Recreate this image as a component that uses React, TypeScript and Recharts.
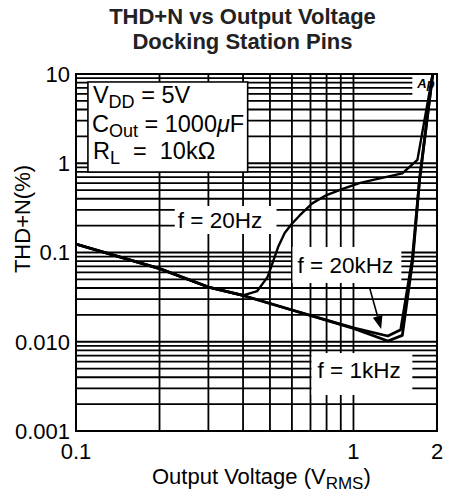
import React from 'react';
import { ComposedChart, Line, XAxis, YAxis, CartesianGrid, ReferenceArea, ReferenceLine } from 'recharts';

const FONT = '"Liberation Sans", Arial, Helvetica, sans-serif';

// f = 20Hz series
const f20HzV = [0.1, 0.2, 0.3, 0.4, 0.45, 0.49, 0.51, 0.535, 0.565, 0.6, 0.64, 0.71, 0.8, 0.92, 1.05, 1.2, 1.5, 1.7, 1.93];
const f20HzThd = [0.124, 0.066, 0.041, 0.033, 0.037, 0.053, 0.075, 0.115, 0.165, 0.21, 0.26, 0.355, 0.44, 0.52, 0.6, 0.66, 0.77, 1.09, 10];

// f = 1kHz series
const f1kHzV = [0.1, 0.2, 0.3, 0.4, 0.6, 1.0, 1.33, 1.5, 1.635, 1.73, 1.93];
const f1kHzThd = [0.124, 0.066, 0.041, 0.033, 0.0227, 0.0141, 0.0102, 0.0118, 0.082, 0.65, 10];

// f = 20kHz series
const f20kHzV = [0.1, 0.2, 0.3, 0.4, 0.6, 1.0, 1.33, 1.48, 1.63, 1.73, 1.93];
const f20kHzThd = [0.124, 0.066, 0.041, 0.033, 0.0227, 0.0143, 0.0116, 0.0136, 0.085, 0.65, 10];

// Axis ticks (grid lines) and their labels
const xTicks = [0.1, 0.2, 0.3, 0.4, 0.5, 0.6, 0.7, 0.8, 0.9, 1, 2];
const xTickLabels: Record<string, string> = { '0.1': '0.1', '1': '1', '2': '2' };
const yTicks = [
  0.001, 0.002, 0.003, 0.004, 0.005, 0.006, 0.007, 0.008, 0.009,
  0.01, 0.02, 0.03, 0.04, 0.05, 0.06, 0.07, 0.08, 0.09,
  0.1, 0.2, 0.3, 0.4, 0.5, 0.6, 0.7, 0.8, 0.9,
  1, 2, 3, 4, 5, 6, 7, 8, 9, 10,
];
const yTickLabels: Record<string, string> = { '0.001': '0.001', '0.01': '0.010', '0.1': '0.1', '1': '1', '10': '10' };

const toData = (xs: number[], ys: number[]) => xs.map((x, i) => ({ x, y: ys[i] }));
const data20Hz = toData(f20HzV, f20HzThd);
const data1kHz = toData(f1kHzV, f1kHzThd);
const data20kHz = toData(f20kHzV, f20kHzThd);

const LegendText = (props: any) => {
  const { x, y } = props.viewBox;
  const common = { fontFamily: FONT, fontSize: 23.5, fill: '#000', style: { whiteSpace: 'pre' as const } };
  return (
    <g>
      <text x={x + 5} y={y + 21} {...common}>
        V<tspan fontSize={18} dy={5}>DD</tspan><tspan dy={-5}> = 5V</tspan>
      </text>
      <text x={x + 4} y={y + 50} {...common}>
        C<tspan fontSize={18} dy={5}>Out</tspan><tspan dy={-5}> = 1000</tspan><tspan fontStyle="italic">μ</tspan>F
      </text>
      <text x={x + 5} y={y + 77} {...common}>
        R<tspan fontSize={18} dy={5}>L</tspan><tspan dy={-5}>  =  10kΩ</tspan>
      </text>
    </g>
  );
};

const BoxText = (props: any) => {
  const { x, y } = props.viewBox;
  return (
    <text x={x + props.dx} y={y + props.dy} fontFamily={FONT} fontSize={props.size || 22.5}
      fontWeight={props.bold ? 'bold' : 'normal'} fontStyle={props.italic ? 'italic' : 'normal'}
      fill="#000" style={{ whiteSpace: 'pre' }}>
      {props.text}
    </text>
  );
};

const ArrowShape = (props: any) => {
  const { x1, y1, x2, y2 } = props;
  const ang = Math.atan2(y2 - y1, x2 - x1);
  const L = 13;
  const W = 5;
  const bx = x2 - L * Math.cos(ang);
  const by = y2 - L * Math.sin(ang);
  const px = -Math.sin(ang) * W;
  const py = Math.cos(ang) * W;
  return (
    <g>
      <line x1={x1} y1={y1} x2={bx} y2={by} stroke="#000" strokeWidth={1.6} />
      <polygon points={`${x2},${y2} ${bx + px},${by + py} ${bx - px},${by - py}`} fill="#000" />
    </g>
  );
};

export default function App() {
  return (
    <div style={{ position: 'absolute', left: 0, top: 0, width: 450, height: 497, background: '#fff' }}>
      <ComposedChart width={450} height={497} margin={{ top: 74, right: 13, bottom: 26, left: 0 }}>
        <CartesianGrid stroke="#000" strokeWidth={1.8} strokeOpacity={1} />
        <XAxis
          dataKey="x"
          type="number"
          scale="log"
          domain={[0.1, 2]}
          ticks={xTicks}
          interval={0}
          allowDataOverflow
          height={40}
          tickSize={0}
          tickMargin={12}
          axisLine={{ stroke: '#000', strokeWidth: 2 }}
          tickLine={false}
          tick={{ fill: '#000', fontSize: 22, fontFamily: FONT }}
          tickFormatter={(v: number) => xTickLabels[String(v)] ?? ''}
        />
        <YAxis
          dataKey="y"
          type="number"
          scale="log"
          domain={[0.001, 10]}
          ticks={yTicks}
          interval={0}
          allowDataOverflow
          width={76}
          tickSize={0}
          tickMargin={6}
          axisLine={{ stroke: '#000', strokeWidth: 2 }}
          tickLine={false}
          tick={{ fill: '#000', fontSize: 22, fontFamily: FONT }}
          tickFormatter={(v: number) => yTickLabels[String(v)] ?? ''}
        />
        <ReferenceArea x1={0.1104} x2={0.4156} y1={0.798} y2={8.14} fill="#fff" fillOpacity={1}
          stroke="#000" strokeWidth={1.6} zIndex={-50} label={<LegendText />} />
        <ReferenceArea x1={0.227} x2={0.528} y1={0.161} y2={0.332} fill="#fff" fillOpacity={1}
          stroke="none" zIndex={-50} label={<BoxText text="f = 20Hz" dx={3} dy={22} />} />
        <ReferenceArea x1={0.603} x2={1.488} y1={0.0455} y2={0.1152} fill="#fff" fillOpacity={1}
          stroke="none" zIndex={-50} label={<BoxText text="f = 20kHz" dx={5} dy={26} />} />
        <ReferenceArea x1={0.706} x2={1.63} y1={0.00253} y2={0.00748} fill="#fff" fillOpacity={1}
          stroke="none" zIndex={-50} label={<BoxText text="f = 1kHz" dx={6} dy={25} />} />
        <ReferenceArea x1={1.63} x2={2} y1={5.52} y2={10} fill="#fff" fillOpacity={1}
          stroke="none" zIndex={-50} label={<BoxText text="Ap" dx={5} dy={14} size={13} bold italic />} />
        <ReferenceLine segment={[{ x: 1.142, y: 0.0407 }, { x: 1.258, y: 0.0139 }]} shape={ArrowShape} zIndex={-40} />
        <Line data={data20Hz} dataKey="y" type="linear" stroke="#000" strokeWidth={2.4} dot={false}
          activeDot={false} isAnimationActive={false} strokeLinejoin="round" />
        <Line data={data1kHz} dataKey="y" type="linear" stroke="#000" strokeWidth={2.8} dot={false}
          activeDot={false} isAnimationActive={false} strokeLinejoin="round" />
        <Line data={data20kHz} dataKey="y" type="linear" stroke="#000" strokeWidth={2.8} dot={false}
          activeDot={false} isAnimationActive={false} strokeLinejoin="round" />
        <ReferenceArea x1={0.1} x2={2} y1={0.001} y2={10} fill="none" stroke="#000" strokeWidth={2} zIndex={600} />
      </ComposedChart>
      <svg width={450} height={497} style={{ position: 'absolute', left: 0, top: 0, pointerEvents: 'none' }}>
        <text x={242.5} y={23.5} textAnchor="middle" fontFamily={FONT} fontSize={22} fontWeight="bold" fill="#222">
          THD+N vs Output Voltage
        </text>
        <text x={242.5} y={48.5} textAnchor="middle" fontFamily={FONT} fontSize={22} fontWeight="bold" fill="#222">
          Docking Station Pins
        </text>
        <text x={152} y={484} fontFamily={FONT} fontSize={22} fill="#000">
          Output Voltage (V<tspan fontSize={17} dy={5}>RMS</tspan><tspan dy={-5}>)</tspan>
        </text>
        <text x={30} y={219} textAnchor="middle" transform="rotate(-90, 30, 219)" fontFamily={FONT} fontSize={22} fill="#000">
          THD+N(%)
        </text>
      </svg>
    </div>
  );
}
